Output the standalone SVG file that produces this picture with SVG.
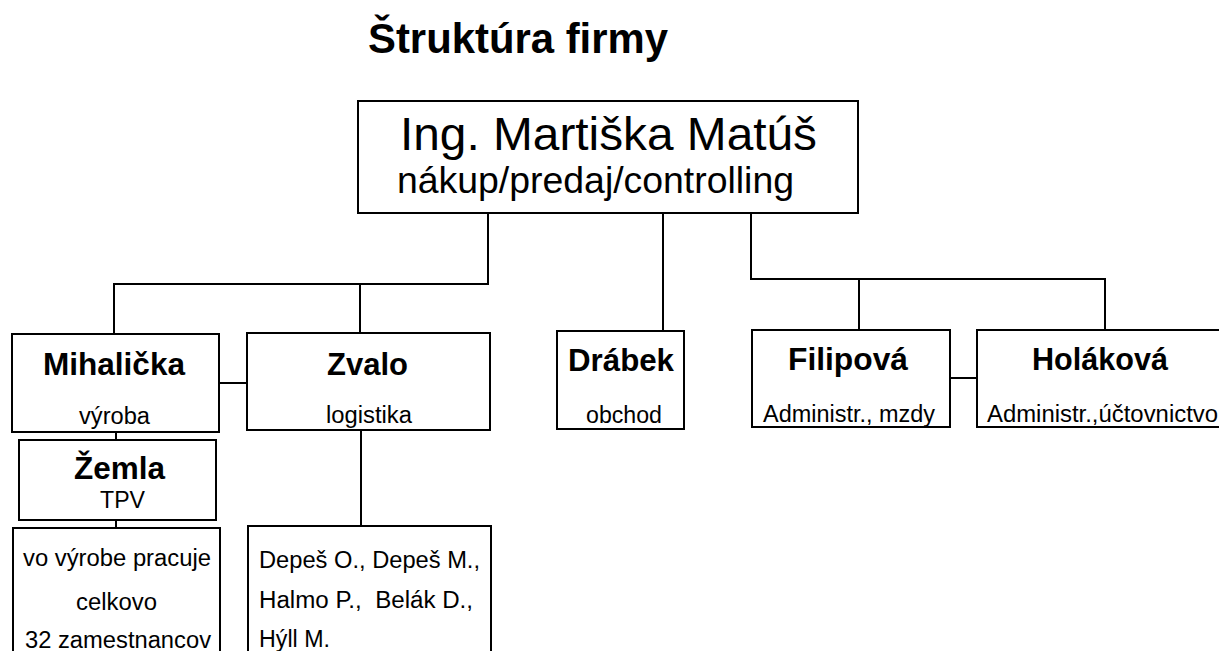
<svg xmlns="http://www.w3.org/2000/svg" width="1219" height="651" viewBox="0 0 1219 651">
<style>
.box{fill:#fff;stroke:#000;stroke-width:2}
.con{fill:none;stroke:#000;stroke-width:2}
text{font-family:"Liberation Sans",Arial,sans-serif;fill:#000;white-space:pre}
.b{font-weight:bold;font-size:31px}
.s{font-size:23px}
</style>
<rect width="1219" height="651" fill="#fff"/>
<text id="title" x="368" y="53" font-size="42" font-weight="bold" textLength="300" lengthAdjust="spacingAndGlyphs">Štruktúra firmy</text>
<g id="connectors">
<polyline class="con" points="488,213 488,284 114,284 114,334"/>
<line class="con" x1="360" y1="284" x2="360" y2="333"/>
<line class="con" x1="663" y1="213" x2="663" y2="331"/>
<polyline class="con" points="751,213 751,279 1105,279 1105,330"/>
<line class="con" x1="859" y1="279" x2="859" y2="330"/>
<line class="con" x1="219" y1="383" x2="247" y2="383"/>
<line class="con" x1="950" y1="378" x2="977" y2="378"/>
<line class="con" x1="116" y1="432" x2="116" y2="440"/>
<line class="con" x1="116" y1="520" x2="116" y2="528"/>
<line class="con" x1="361" y1="430" x2="361" y2="526"/>
</g>
<g id="root">
<rect class="box" x="358" y="101" width="500" height="112"/>
<text x="400" y="150" font-size="46" textLength="417" lengthAdjust="spacingAndGlyphs">Ing. Martiška Matúš</text>
<text x="397" y="193" font-size="37" textLength="397" lengthAdjust="spacingAndGlyphs">nákup/predaj/controlling</text>
</g>
<g id="mihalicka">
<rect class="box" x="12" y="334" width="207" height="98"/>
<text class="b" x="43" y="375" textLength="142" lengthAdjust="spacingAndGlyphs">Mihalička</text>
<text class="s" x="79" y="424" textLength="71" lengthAdjust="spacingAndGlyphs">výroba</text>
</g>
<g id="zvalo">
<rect class="box" x="247" y="333" width="243" height="97"/>
<text class="b" x="327" y="375" textLength="81" lengthAdjust="spacingAndGlyphs">Zvalo</text>
<text class="s" x="326" y="423" textLength="86" lengthAdjust="spacingAndGlyphs">logistika</text>
</g>
<g id="drabek">
<rect class="box" x="557" y="331" width="127" height="98"/>
<text class="b" x="568" y="371" textLength="106" lengthAdjust="spacingAndGlyphs">Drábek</text>
<text class="s" x="586" y="423" textLength="76" lengthAdjust="spacingAndGlyphs">obchod</text>
</g>
<g id="filipova">
<rect class="box" x="752" y="330" width="198" height="97"/>
<text class="b" x="788" y="370" textLength="120" lengthAdjust="spacingAndGlyphs">Filipová</text>
<text class="s" x="763" y="422" textLength="172" lengthAdjust="spacingAndGlyphs">Administr., mzdy</text>
</g>
<g id="holakova">
<rect class="box" x="977" y="330" width="260" height="97"/>
<text class="b" x="1032" y="370" textLength="136" lengthAdjust="spacingAndGlyphs">Holáková</text>
<text class="s" x="987" y="422" textLength="231" lengthAdjust="spacingAndGlyphs">Administr.,účtovnictvo</text>
</g>
<g id="zemla">
<rect class="box" x="19" y="440" width="197" height="80"/>
<text class="b" x="74" y="479" textLength="91" lengthAdjust="spacingAndGlyphs">Žemla</text>
<text class="s" x="100" y="508" textLength="45" lengthAdjust="spacingAndGlyphs">TPV</text>
</g>
<g id="vyroba-staff">
<rect class="box" x="13" y="528" width="207" height="140"/>
<text class="s" x="23" y="566" textLength="188" lengthAdjust="spacingAndGlyphs">vo výrobe pracuje</text>
<text class="s" x="76" y="610" textLength="81" lengthAdjust="spacingAndGlyphs">celkovo</text>
<text class="s" x="25" y="648" textLength="186" lengthAdjust="spacingAndGlyphs">32 zamestnancov</text>
</g>
<g id="logistika-staff">
<rect class="box" x="248" y="526" width="243" height="140"/>
<text class="s" x="259" y="568" textLength="221" lengthAdjust="spacingAndGlyphs">Depeš O., Depeš M.,</text>
<text class="s" x="259" y="608" textLength="214" lengthAdjust="spacingAndGlyphs">Halmo P.,  Belák D.,</text>
<text class="s" x="259" y="647" textLength="71" lengthAdjust="spacingAndGlyphs">Hýll M.</text>
</g>
</svg>
